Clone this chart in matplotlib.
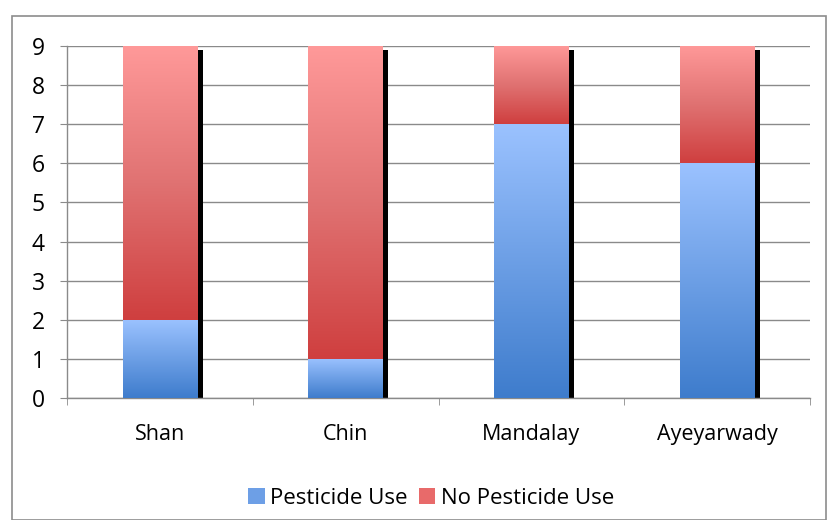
import numpy as np
import matplotlib.pyplot as plt
from matplotlib.patches import Rectangle, Patch
from matplotlib.colors import LinearSegmentedColormap
from matplotlib.transforms import ScaledTranslation

plt.rcParams['font.family'] = ['Open Sans', 'DejaVu Sans']

regions = ['Shan', 'Chin', 'Mandalay', 'Ayeyarwady']
pesticide_use = [2, 1, 7, 6]
no_pesticide_use = [7, 8, 2, 3]
series_names = ['Pesticide Use', 'No Pesticide Use']
y_ticks = list(range(0, 10))

blue_cmap = LinearSegmentedColormap.from_list('blue', ['#3e7ccc', '#9bc2ff'])
red_cmap = LinearSegmentedColormap.from_list('red', ['#cf3f3f', '#e07272', '#ff9999'])

fig = plt.figure(figsize=(8.27, 5.2), dpi=100)
ax = fig.add_axes([67 / 827, 1 - 398 / 520, (810 - 67) / 827, (398 - 46) / 520])

# outer chart border
fig.patches.append(Rectangle((12 / 827, 0.0), 1 - 12 / 827 - 0.0015, 1 - 16 / 520,
                             transform=fig.transFigure, fill=False,
                             edgecolor='#8c8c8c', linewidth=1.2, zorder=0))

x = np.arange(len(regions))
width = 0.4
totals = np.array(pesticide_use) + np.array(no_pesticide_use)

# black shadow behind each stacked bar
shadow_tr = ax.transData + ScaledTranslation(5.5 / 100, -4 / 100, fig.dpi_scale_trans)
ax.bar(x, totals, width, color='black', transform=shadow_tr, zorder=2)

bars_use = ax.bar(x, pesticide_use, width, color='none', zorder=3)
bars_no = ax.bar(x, no_pesticide_use, width, bottom=pesticide_use, color='none', zorder=3)

grad = np.linspace(0, 1, 256).reshape(-1, 1)
for bars, cmap in [(bars_use, blue_cmap), (bars_no, red_cmap)]:
    for b in bars:
        x0, y0 = b.get_x(), b.get_y()
        w, h = b.get_width(), b.get_height()
        im = ax.imshow(grad, cmap=cmap, origin='lower', aspect='auto',
                       extent=[x0, x0 + w, y0, y0 + h], zorder=3, interpolation='bicubic')
        im.set_clip_path(b)

ax.set_xlim(-0.5, len(regions) - 0.5)
ax.set_ylim(0, 9)
ax.set_yticks(y_ticks)
ax.yaxis.grid(True, color='#8a8a8a', linewidth=1.0)
ax.set_axisbelow(True)

ax.set_xticks(x)
ax.set_xticklabels(regions)
ax.set_xticks(np.arange(len(regions) + 1) - 0.5, minor=True)
ax.tick_params(axis='x', which='major', length=0, pad=18.5, labelsize=15.5)
ax.tick_params(axis='x', which='minor', length=5, color='#8a8a8a', direction='out')
ax.tick_params(axis='y', length=5, color='#8a8a8a', pad=11, labelsize=16.5)

for s in ['top', 'right']:
    ax.spines[s].set_visible(False)
for s in ['left', 'bottom']:
    ax.spines[s].set_color('#8a8a8a')
    ax.spines[s].set_linewidth(1.0)

handles = [Patch(facecolor='#6d9fe6', edgecolor='none'),
           Patch(facecolor='#e86a6a', edgecolor='none')]
fig.legend(handles, series_names, loc='center', bbox_to_anchor=(431 / 827, 1 - 498 / 520),
           ncol=2, frameon=False, fontsize=16, handlelength=0.75, handleheight=0.75,
           handletextpad=0.25, columnspacing=0.5)

fig.savefig('out.png', dpi=100)
